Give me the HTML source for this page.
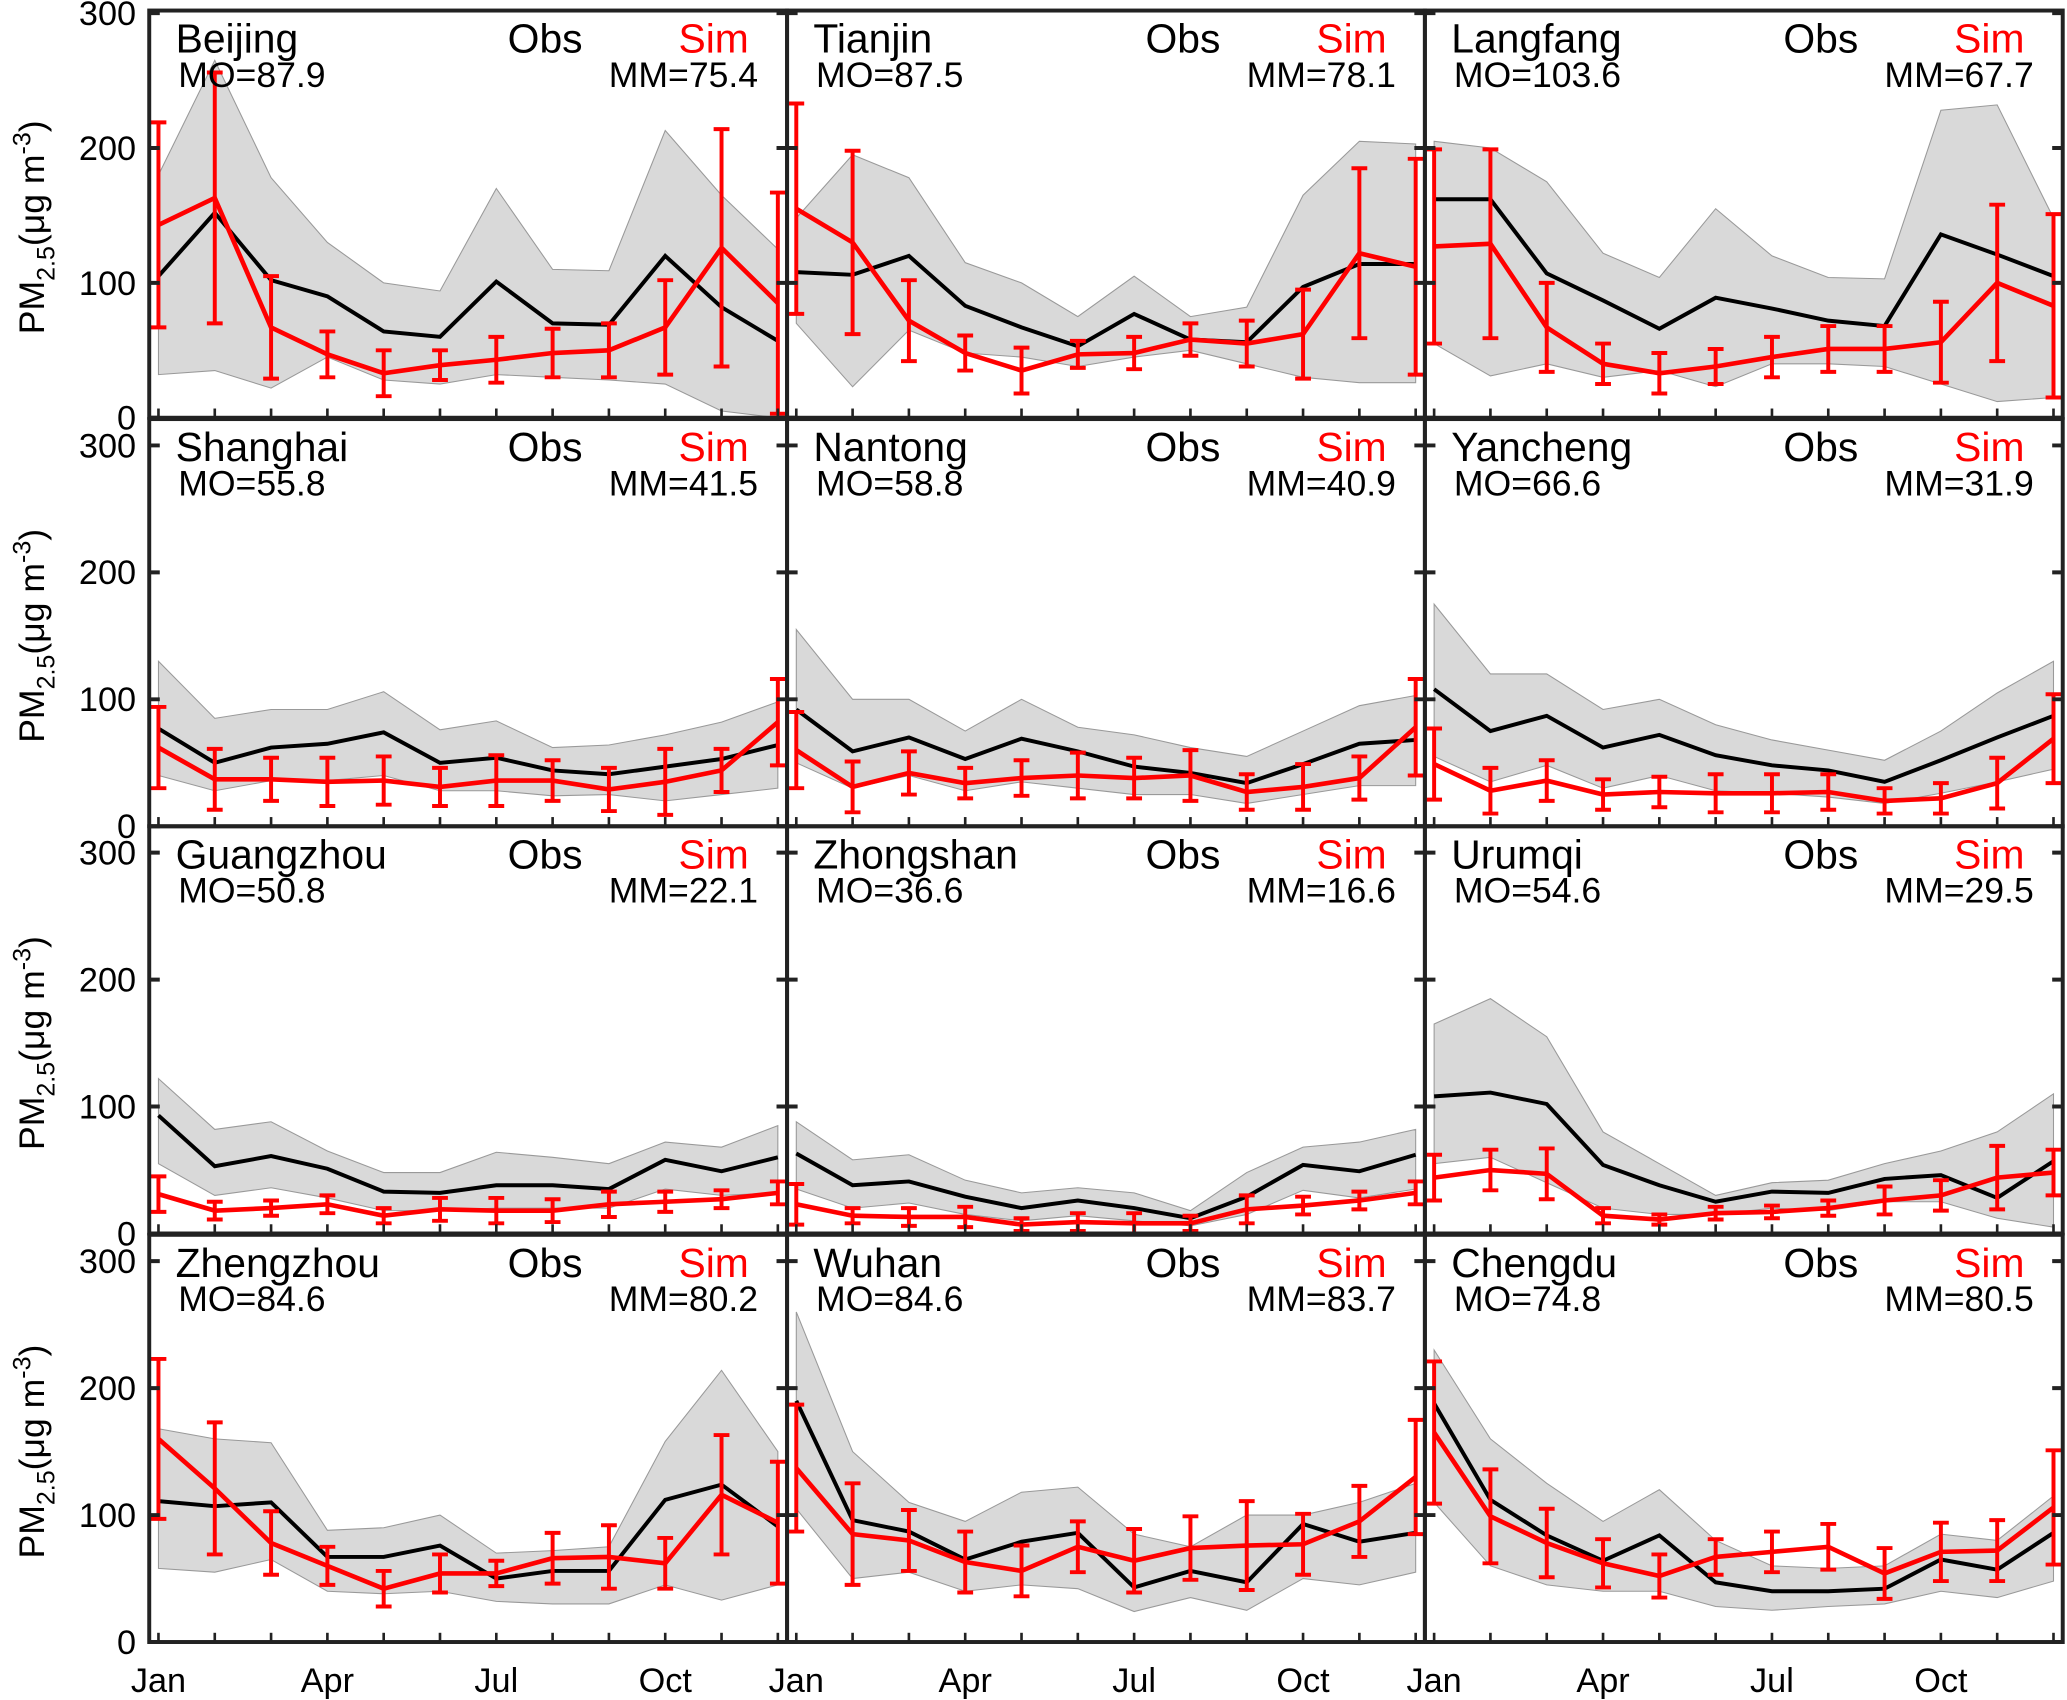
<!DOCTYPE html>
<html><head><meta charset="utf-8"><style>
html,body{margin:0;padding:0;background:#fff;}
svg{display:block;font-family:"Liberation Sans",Arial,sans-serif;}
</style></head><body>
<svg id="chart" width="2067" height="1700" viewBox="0 0 1568 1290" xmlns="http://www.w3.org/2000/svg"></svg>
<script>
const stations=["Beijing","Tianjin","Langfang","Shanghai","Nantong","Yancheng","Guangzhou","Zhongshan","Urumqi","Zhengzhou","Wuhan","Chengdu"];
const moValues=["87.9","87.5","103.6","55.8","58.8","66.6","50.8","36.6","54.6","84.6","84.6","74.8"];
const mmValues=["75.4","78.1","67.7","41.5","40.9","31.9","22.1","16.6","29.5","80.2","83.7","80.5"];
const obsBeijing=[105,152,102,90,64,60,101,70,69,120,82,57];
const obsTianjin=[108,106,120,83,67,53,77,58,56,97,114,114];
const obsLangfang=[162,162,107,87,66,89,81,72,68,136,121,105];
const obsShanghai=[77,50,62,65,74,50,54,44,41,47,53,64];
const obsNantong=[92,59,70,53,69,59,47,42,34,49,65,68];
const obsYancheng=[108,75,87,62,72,56,48,44,35,52,70,87];
const obsGuangzhou=[93,53,61,51,33,32,38,38,35,58,49,60];
const obsZhongshan=[63,38,41,29,20,26,20,12,29,54,49,62];
const obsUrumqi=[108,111,102,54,38,25,33,32,43,46,28,57];
const obsZhengzhou=[111,107,110,67,67,76,50,56,56,112,124,91];
const obsWuhan=[190,96,87,65,79,86,43,56,47,93,79,86];
const obsChengdu=[188,112,84,64,84,47,40,40,42,65,57,86];
const hiBeijing=[180,265,178,130,100,94,170,110,109,213,165,125];
const hiTianjin=[148,195,178,115,100,75,105,75,82,165,205,203];
const hiLangfang=[205,200,175,122,104,155,120,104,103,228,232,148];
const hiShanghai=[130,85,92,92,106,76,83,62,64,72,82,98];
const hiNantong=[155,100,100,75,100,78,72,62,55,75,95,103];
const hiYancheng=[175,120,120,92,100,80,68,60,52,75,105,130];
const hiGuangzhou=[122,82,88,65,48,48,64,60,55,72,68,85];
const hiZhongshan=[88,58,62,42,32,36,32,18,48,68,72,82];
const hiUrumqi=[165,185,155,80,55,30,40,42,55,65,80,110];
const hiZhengzhou=[168,160,157,88,90,100,70,72,75,158,214,150];
const hiWuhan=[260,150,110,95,118,122,85,75,100,100,110,125];
const hiChengdu=[230,160,125,95,120,80,60,58,60,85,80,115];
const loBeijing=[32,35,22,45,28,25,32,30,28,25,5,0];
const loTianjin=[70,23,65,48,45,38,45,50,40,30,26,26];
const loLangfang=[55,31,40,30,35,23,40,40,38,25,12,15];
const loShanghai=[40,28,36,36,40,28,28,24,25,20,25,30];
const loNantong=[50,30,40,28,35,30,25,25,18,25,32,32];
const loYancheng=[55,35,48,30,40,28,26,23,18,26,35,45];
const loGuangzhou=[55,30,36,28,18,18,20,20,20,35,30,32];
const loZhongshan=[35,20,24,15,10,14,10,6,15,34,28,35];
const loUrumqi=[55,60,40,20,15,15,20,18,25,25,12,5];
const loZhengzhou=[58,55,65,40,38,40,32,30,30,45,33,45];
const loWuhan=[105,50,55,40,45,42,24,35,25,50,45,55];
const loChengdu=[110,60,45,40,40,28,25,28,30,40,35,48];
const simBeijing=[143,163,67,47,33,39,43,48,50,67,126,85];
const simTianjin=[155,130,72,48,35,47,48,58,55,62,122,112];
const simLangfang=[127,129,67,40,33,38,45,51,51,56,100,83];
const simShanghai=[62,37,37,35,36,31,36,36,29,35,44,82];
const simNantong=[60,31,42,34,38,40,38,40,27,31,38,78];
const simYancheng=[49,28,36,25,27,26,26,27,20,22,34,69];
const simGuangzhou=[31,18,20,23,14,19,18,18,23,25,27,32];
const simZhongshan=[23,14,13,13,7,9,8,8,19,22,26,32];
const simUrumqi=[44,50,47,14,11,16,17,20,26,30,44,48];
const simZhengzhou=[160,121,78,60,42,54,54,66,67,62,116,94];
const simWuhan=[137,85,80,63,56,75,64,74,76,77,95,130];
const simChengdu=[165,99,78,62,52,67,71,75,54,71,72,106];
const errBeijing=[76,93,38,17,17,11,17,18,20,35,88,82];
const errTianjin=[78,68,30,13,17,10,12,12,17,33,63,80];
const errLangfang=[72,70,33,15,15,13,15,17,17,30,58,68];
const errShanghai=[32,24,17,19,19,15,20,16,17,26,17,34];
const errNantong=[30,20,17,12,14,18,16,20,14,18,17,38];
const errYancheng=[28,18,16,12,12,15,15,14,10,12,20,35];
const errGuangzhou=[14,7,6,7,6,9,10,9,10,8,7,9];
const errZhongshan=[16,6,7,8,5,7,8,6,11,7,7,9];
const errUrumqi=[18,16,20,6,4,5,5,6,11,12,25,18];
const errZhengzhou=[63,52,25,15,14,15,10,20,25,20,47,48];
const errWuhan=[50,40,24,24,20,20,25,25,35,24,28,45];
const errChengdu=[56,37,27,19,17,14,16,18,20,23,24,45];
const yTicks=[0,100,200,300];
const xTickLabels=["Jan","Apr","Jul","Oct"];
const xTickMonths=[0,3,6,9];

const OBS=[obsBeijing,obsTianjin,obsLangfang,obsShanghai,obsNantong,obsYancheng,obsGuangzhou,obsZhongshan,obsUrumqi,obsZhengzhou,obsWuhan,obsChengdu];
const HI=[hiBeijing,hiTianjin,hiLangfang,hiShanghai,hiNantong,hiYancheng,hiGuangzhou,hiZhongshan,hiUrumqi,hiZhengzhou,hiWuhan,hiChengdu];
const LO=[loBeijing,loTianjin,loLangfang,loShanghai,loNantong,loYancheng,loGuangzhou,loZhongshan,loUrumqi,loZhengzhou,loWuhan,loChengdu];
const SIM=[simBeijing,simTianjin,simLangfang,simShanghai,simNantong,simYancheng,simGuangzhou,simZhongshan,simUrumqi,simZhengzhou,simWuhan,simChengdu];
const ERR=[errBeijing,errTianjin,errLangfang,errShanghai,errNantong,errYancheng,errGuangzhou,errZhongshan,errUrumqi,errZhengzhou,errWuhan,errChengdu];

const svg=document.getElementById('chart');
const NS="http://www.w3.org/2000/svg";
function mk(tag,attrs,parent){const e=document.createElementNS(NS,tag);for(const k in attrs)e.setAttribute(k,attrs[k]);(parent||svg).appendChild(e);return e;}
const colX=[113,597,1081], rowY=[8,318,627,937], PW=484, PH=309;
for(let i=0;i<12;i++){
  const c=i%3,r=Math.floor(i/3);
  const x0=colX[c], y0=rowY[r];
  const span=(r===0)?(PH-2):289;
  const xs=m=>x0+7+m*(470/11);
  const ys=v=>y0+PH-Math.max(0,v)*span/300;
  const g=mk('g',{});
  
  
  let pts=OBS[i].map((_,m)=>xs(m)+','+ys(HI[i][m]));
  for(let m=11;m>=0;m--)pts.push(xs(m)+','+ys(LO[i][m]));
  const sh=mk('polygon',{points:pts.join(' '),fill:'#d9d9d9',stroke:'#999','stroke-width':0.8},g);
  
  
  const ol=mk('polyline',{points:OBS[i].map((v,m)=>xs(m)+','+ys(v)).join(' '),fill:'none',stroke:'#000','stroke-width':3},g);
  
  
  const sl=mk('polyline',{points:SIM[i].map((v,m)=>xs(m)+','+ys(v)).join(' '),fill:'none',stroke:'#f00','stroke-width':3.5},g);
  
  
  SIM[i].forEach((v,m)=>{
    const e=ERR[i][m], x=xs(m), a=ys(v+e), b=ys(v-e);
    const p=mk('path',{d:`M${x},${a}V${b}M${x-6},${a}H${x+6}M${x-6},${b}H${x+6}`,stroke:'#f00','stroke-width':3,fill:'none'},g);
    
    
  });
  const fr=mk('rect',{x:x0,y:y0,width:PW,height:PH,fill:'none',stroke:'#222','stroke-width':3},g);
  
  
  yTicks.forEach(t=>{const y=ys(t);mk('path',{d:`M${x0},${y}h8M${x0+PW},${y}h-8`,stroke:'#222','stroke-width':3},g);});
  for(let m=0;m<12;m++){mk('path',{d:`M${xs(m)},${y0+PH}v-7`,stroke:'#222','stroke-width':2},g);}
  const t1=mk('text',{x:x0+20,y:y0+32,'font-size':31,fill:'#000'},g);t1.textContent=stations[i];
  
  const t2=mk('text',{x:x0+22,y:y0+58,'font-size':27,fill:'#000'},g);t2.textContent='MO='+moValues[i];
  
  const t3=mk('text',{x:x0+PW-22,y:y0+58,'font-size':27,fill:'#000','text-anchor':'end'},g);t3.textContent='MM='+mmValues[i];
  
  const t4=mk('text',{x:x0+272,y:y0+32,'font-size':31,fill:'#000'},g);t4.textContent='Obs';
  
  const t5=mk('text',{x:x0+PW-29,y:y0+32,'font-size':31,fill:'#f00','text-anchor':'end'},g);t5.textContent='Sim';
  
  if(c===0){
    yTicks.forEach(t=>{const tl=mk('text',{x:103,y:ys(t)+9,'font-size':26,'text-anchor':'end'},g);tl.textContent=t;
      });
    const cy=y0+PH/2+10;
    const yt=mk('text',{transform:`translate(33,${cy}) rotate(-90)`,'font-size':27,'text-anchor':'middle'},g);
    yt.innerHTML='PM<tspan font-size="19" dy="8">2.5</tspan><tspan dy="-8">(μg m</tspan><tspan font-size="19" dy="-10">-3</tspan><tspan dy="10">)</tspan>';
    
  }
  if(r===3){
    xTickMonths.forEach((m,k)=>{const tl=mk('text',{x:xs(m),y:1284,'font-size':26,'text-anchor':'middle'},g);tl.textContent=xTickLabels[k];
      });
  }
}
</script>
</body></html>
